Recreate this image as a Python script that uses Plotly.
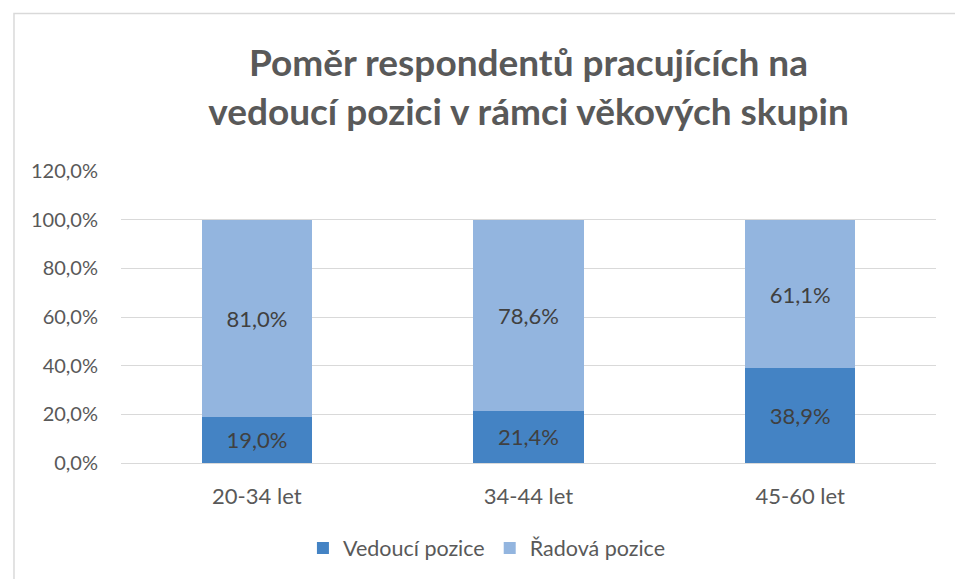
import plotly.graph_objects as go

categories = ["20-34 let", "34-44 let", "45-60 let"]
vedouci = [19.0, 21.4, 38.9]
radova = [81.0, 78.6, 61.1]
series_names = ["Vedoucí pozice", "Řadová pozice"]
tick_vals = [0, 20, 40, 60, 80, 100, 120]
tick_text = ["0,0%", "20,0%", "40,0%", "60,0%", "80,0%", "100,0%", "120,0%"]

FONT = "Lato"
fig = go.Figure()
fig.add_trace(go.Bar(
    x=categories, y=vedouci, name=series_names[0],
    marker=dict(color="#4483c4", line=dict(width=0)),
    texttemplate="%{y:.1f}%", textposition="inside", insidetextanchor="middle",
    textfont=dict(family=FONT, size=22, color="#404040"),
))
fig.add_trace(go.Bar(
    x=categories, y=radova, name=series_names[1],
    marker=dict(color="#93b5df", line=dict(width=0)),
    texttemplate="%{y:.1f}%", textposition="inside", insidetextanchor="middle",
    textfont=dict(family=FONT, size=22, color="#404040"),
))

fig.update_layout(
    barmode="stack",
    bargap=0.595,
    width=955, height=579,
    margin=dict(l=121, r=19, t=171, b=115),
    paper_bgcolor="white", plot_bgcolor="white",
    separators=", ",
    uniformtext=dict(mode=False),
    title=dict(
        text="<b>Poměr respondentů pracujících na<br>vedoucí pozici v rámci věkových skupin</b>",
        x=0.5, xanchor="center", xref="paper", y=0.868, yanchor="middle",
        font=dict(family=FONT, size=37, color="#595959"),
    ),
    legend=dict(
        orientation="h", x=0.449, xanchor="center", y=-0.287, yanchor="middle",
        font=dict(family=FONT, size=21.5, color="#595959"),
        traceorder="normal", itemwidth=30,
    ),
    xaxis=dict(
        showgrid=False, showline=False, ticks="",
        tickfont=dict(family=FONT, size=22, color="#595959"),
        ticklabelstandoff=18,
    ),
    yaxis=dict(
        range=[0, 120], tickvals=tick_vals, ticktext=tick_text,
        showgrid=True, gridcolor="#d9d9d9", gridwidth=1,
        zeroline=True, zerolinecolor="#d9d9d9", zerolinewidth=1,
        showline=False, ticks="",
        tickfont=dict(family=FONT, size=20, color="#595959"),
        ticklabelstandoff=22,
    ),
    showlegend=True,
)

fig.add_shape(type="rect", xref="paper", yref="paper",
              x0=-0.1313, x1=1.06, y0=-0.6, y1=1.539,
              line=dict(color="#d9d9d9", width=1.5), fillcolor="rgba(0,0,0,0)", layer="below")

fig.write_html("out.html", config={"displayModeBar": False},
               post_script="document.body.style.margin='0';")
